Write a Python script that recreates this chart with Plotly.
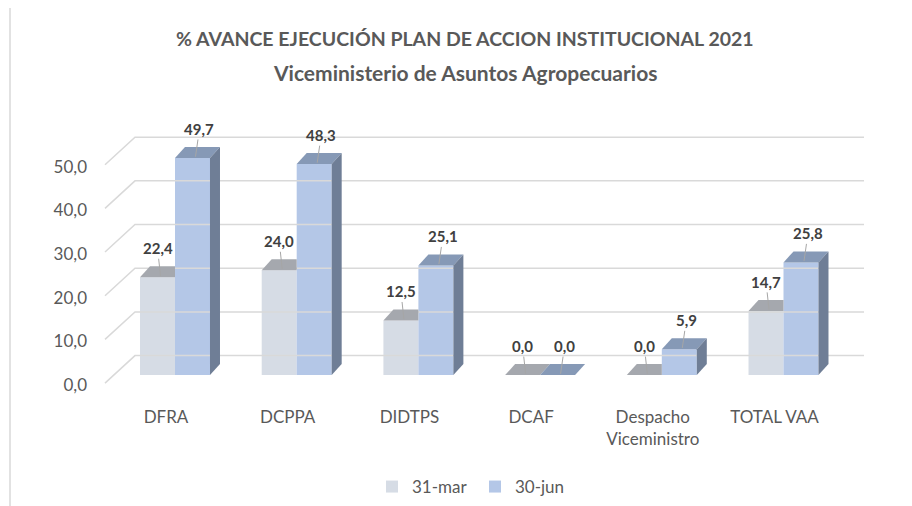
import plotly.graph_objects as go

# ---------------- data ----------------
categories = ["DFRA", "DCPPA", "DIDTPS", "DCAF", "Despacho<br>Viceministro", "TOTAL VAA"]
series_names = ["31-mar", "30-jun"]
values_mar = [22.4, 24.0, 12.5, 0.0, 0.0, 14.7]
values_jun = [49.7, 48.3, 25.1, 0.0, 5.9, 25.8]
y_ticks = [0, 10, 20, 30, 40, 50]
title_line1 = "% AVANCE EJECUCIÓN PLAN DE ACCION INSTITUCIONAL 2021"
title_line2 = "Viceministerio de Asuntos Agropecuarios"

# ---------------- style ----------------
FONT = "Lato, Roboto, sans-serif"
TXT = "#595959"
LBL = "#404040"
GRID = "#D9D9D9"
C_MAR_FRONT = "#D6DCE5"
C_MAR_TOP = "#A5A8AE"
C_MAR_SIDE = "#9A9FA7"
C_JUN_FRONT = "#B4C7E7"
C_JUN_TOP = "#8699B6"
C_JUN_SIDE = "#6F7E96"

OFF = 8                          # page body margin of the html page
W, H = 912 - OFF, 506 - OFF
ML, MR, MT, MB = 100 - OFF, 24, 113 - OFF, 113
plot_w = W - ML - MR
plot_h = H - MT - MB
PX_X = 121.7                     # px per category
x_min = -75 / PX_X
x_max = x_min + plot_w / PX_X
y_min, y_max = -4.1, 60.0
PX_Y = plot_h / (y_max - y_min)  # px per value unit

def px(x_page):                  # page x -> paper fraction
    return (x_page - OFF - ML) / plot_w

def py(y_page):                  # page y -> paper fraction
    return (H - MB - (y_page - OFF)) / plot_h

BAR_FRAC = 0.575
bw = BAR_FRAC / 2
DX = 10 / PX_X                   # depth offset (x)
DY = 11 / PX_Y                   # depth offset (y)
BACK_DY = 19.5 / PX_Y            # back wall offset
WALL_L = (135 - 175) / PX_X
WALL_R = (864 - 175) / PX_X
FLOOR_L = (105 - 175) / PX_X
FLOOR_DY = -8 / PX_Y
LABEL_SHIFT = 10 / PX_Y          # ytick labels drawn slightly lower (3D floor)

idx = list(range(len(categories)))
fig = go.Figure()

# back wall gridlines + floor diagonals
gx, gy = [], []
for t in y_ticks:
    gx += [FLOOR_L, WALL_L, WALL_R, None]
    gy += [t + FLOOR_DY, t + BACK_DY, t + BACK_DY, None]
fig.add_trace(go.Scatter(x=gx, y=gy, mode="lines", line=dict(color=GRID, width=1.5),
                         hoverinfo="skip", showlegend=False))

# front faces through library bars
fig.add_trace(go.Bar(x=idx, y=values_mar, name=series_names[0], marker=dict(color=C_MAR_FRONT, line_width=0)))
fig.add_trace(go.Bar(x=idx, y=values_jun, name=series_names[1], marker=dict(color=C_JUN_FRONT, line_width=0)))

def poly(xs, ys, color):
    fig.add_trace(go.Scatter(x=xs + [xs[0]], y=ys + [ys[0]], mode="lines", fill="toself",
                             fillcolor=color, line=dict(width=0, color=color),
                             hoverinfo="skip", showlegend=False))

for i in idx:
    vm, vj = values_mar[i], values_jun[i]
    m0, m1 = i - bw, i
    j0, j1 = i, i + bw
    # 31-mar top (clipped where hidden behind 30-jun front)
    if vj >= vm + DY:
        poly([m0, m1, m1, m0 + DX], [vm, vm, vm + DY, vm + DY], C_MAR_TOP)
    else:
        poly([m0, m1, m1 + DX, m0 + DX], [vm, vm, vm + DY, vm + DY], C_MAR_TOP)
    if vm > vj:
        poly([m1, m1, m1 + DX, m1 + DX], [vj, vm, vm + DY, vj + DY], C_MAR_SIDE)
    # 30-jun top and side
    poly([j0, j1, j1 + DX, j0 + DX], [vj, vj, vj + DY, vj + DY], C_JUN_TOP)
    if vj > 0:
        poly([j1, j1, j1 + DX, j1 + DX], [0, vj, vj + DY, DY], C_JUN_SIDE)

# data labels with leader lines
def fmt(v):
    return f"{v:.1f}".replace(".", ",")

annotations = []
for i in idx:
    for v, c, off in ((values_mar[i], i - bw / 2, 0.0), (values_jun[i], i + bw / 2, 7 / PX_X)):
        annotations.append(dict(
            x=c + 3 / PX_X, y=v + 0.3, ax=c + off, ay=v + 29 / PX_Y,
            xref="x", yref="y", axref="x", ayref="y",
            text=f"<b>{fmt(v)}</b>", showarrow=True, arrowhead=0, arrowwidth=1,
            arrowcolor="#A6A6A6", standoff=0, startstandoff=0,
            font=dict(family=FONT, size=15, color=LBL)))

# titles
annotations.append(dict(x=px(465), y=py(38), xref="paper", yref="paper",
                        text=f"<b>{title_line1}</b>", showarrow=False, xanchor="center", yanchor="middle",
                        font=dict(family=FONT, size=19.5, color=TXT)))
annotations.append(dict(x=px(465), y=py(72), xref="paper", yref="paper",
                        text=f"<b>{title_line2}</b>", showarrow=False, xanchor="center", yanchor="middle",
                        font=dict(family=FONT, size=21, color=TXT)))

fig.update_layout(
    width=W, height=H, margin=dict(l=ML, r=MR, t=MT, b=MB, autoexpand=False),
    paper_bgcolor="white", plot_bgcolor="white",
    barmode="group", bargap=1 - BAR_FRAC, bargroupgap=0,
    separators=",.",
    font=dict(family=FONT, color=TXT),
    xaxis=dict(range=[x_min, x_max], tickvals=[i - 9 / PX_X for i in idx], ticktext=categories,
               showgrid=False, zeroline=False, showline=False, ticks="", automargin=False,
               ticklabelstandoff=12, tickfont=dict(size=17, color=TXT)),
    yaxis=dict(range=[y_min, y_max], showgrid=False, zeroline=False, showticklabels=False,
               showline=False, ticks="", automargin=False),
    yaxis2=dict(range=[y_min + LABEL_SHIFT, y_max + LABEL_SHIFT], overlaying="y", side="left",
                tickvals=y_ticks, tickformat=".1f", showgrid=False, zeroline=False,
                showline=False, ticks="", ticklabelstandoff=12, automargin=False,
                tickfont=dict(size=17, color=TXT)),
    legend=dict(orientation="h", x=px(475), y=py(487),
                xanchor="center", yanchor="middle", font=dict(size=17, color=TXT),
                itemwidth=30, entrywidth=58, entrywidthmode="pixels", traceorder="normal"),
    annotations=annotations,
    shapes=[dict(type="rect", xref="paper", yref="paper",
                 x0=px(10), x1=px(930), y0=py(530), y1=py(7),
                 line=dict(color=GRID, width=1.5), layer="below")],
)

# dummy trace on yaxis2 so its labels render
fig.add_trace(go.Scatter(x=[None], y=[None], yaxis="y2", showlegend=False, hoverinfo="skip"))

fig.write_html("out.html")
